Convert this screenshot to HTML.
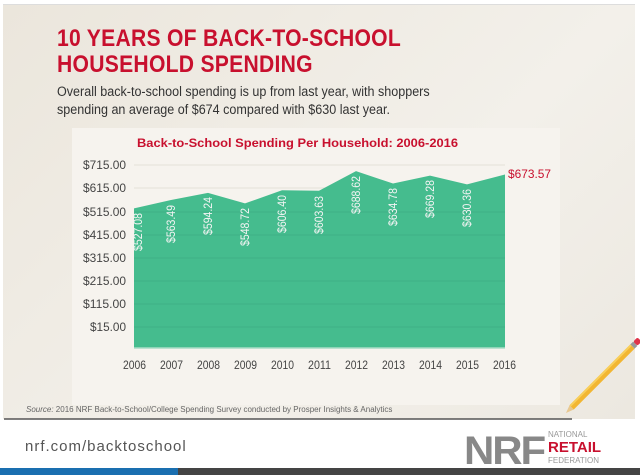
<!DOCTYPE html>
<html><head><meta charset="utf-8"><style>
body{margin:0;width:640px;height:475px;overflow:hidden;background:#fff;font-family:"Liberation Sans",sans-serif;}
.abs{position:absolute}
</style></head><body>
<div class="abs" style="left:0;top:0;width:640px;height:475px;background:#fff"></div>
<div class="abs" style="left:3px;top:4px;width:632px;height:414px;background:linear-gradient(135deg,#ebe6dc,#f3f0ea 60%,#ece8e0);border-top:1px solid #ddd"></div>
<div class="abs" style="left:57px;top:26px;font-size:24px;font-weight:bold;color:#c8102e;line-height:26px;transform:scaleX(0.88);transform-origin:left;letter-spacing:0.3px;white-space:nowrap">10 YEARS OF BACK-TO-SCHOOL<br>HOUSEHOLD SPENDING</div>
<div class="abs" style="left:57px;top:83px;font-size:13.5px;color:#333;line-height:18px;transform:scaleX(0.93);transform-origin:left;white-space:nowrap">Overall back-to-school spending is up from last year, with shoppers<br>spending an average of $674 compared with $630 last year.</div>
<div class="abs" style="left:72px;top:128px;width:488px;height:277px;background:#f6f3ee"></div>
<svg class="abs" style="left:0;top:0" width="640" height="475">
<text x="137" y="147" font-size="12" font-weight="bold" fill="#c8102e" textLength="321" lengthAdjust="spacingAndGlyphs">Back-to-School Spending Per Household: 2006-2016</text>
<g stroke="#e4e0d8" stroke-width="1">
<line x1="134" x2="505" y1="165" y2="165"/><line x1="134" x2="505" y1="188" y2="188"/>
</g>
<polygon fill="#45bc8e" points="134,348 134,208.4 171,200 208,192.9 245,203.4 282,190.2 319,190.8 356,171.1 393,183.5 430,175.6 467,184.4 505,174.5 505,348"/>
<g stroke="#3fb085" stroke-width="1">
<line x1="134" x2="505" y1="212" y2="212"/><line x1="134" x2="505" y1="235" y2="235"/><line x1="134" x2="505" y1="258" y2="258"/><line x1="134" x2="505" y1="281" y2="281"/><line x1="134" x2="505" y1="304" y2="304"/><line x1="134" x2="505" y1="327" y2="327"/>
</g>
<line x1="134" x2="505" y1="348" y2="348" stroke="#a8dcc6" stroke-width="1.5"/>
<g font-size="11.5" fill="#444" text-anchor="end">
<text x="126" y="169" textLength="43" lengthAdjust="spacingAndGlyphs">$715.00</text><text x="126" y="192" textLength="43" lengthAdjust="spacingAndGlyphs">$615.00</text><text x="126" y="216" textLength="43" lengthAdjust="spacingAndGlyphs">$515.00</text><text x="126" y="239" textLength="43" lengthAdjust="spacingAndGlyphs">$415.00</text><text x="126" y="262" textLength="43" lengthAdjust="spacingAndGlyphs">$315.00</text><text x="126" y="285" textLength="43" lengthAdjust="spacingAndGlyphs">$215.00</text><text x="126" y="308" textLength="43" lengthAdjust="spacingAndGlyphs">$115.00</text><text x="126" y="331" textLength="36" lengthAdjust="spacingAndGlyphs">$15.00</text>
</g>
<g font-size="11.5" fill="#444">
<text x="123" y="369" textLength="23" lengthAdjust="spacingAndGlyphs">2006</text><text x="160" y="369" textLength="23" lengthAdjust="spacingAndGlyphs">2007</text><text x="197" y="369" textLength="23" lengthAdjust="spacingAndGlyphs">2008</text><text x="234" y="369" textLength="23" lengthAdjust="spacingAndGlyphs">2009</text><text x="271" y="369" textLength="23" lengthAdjust="spacingAndGlyphs">2010</text><text x="308" y="369" textLength="23" lengthAdjust="spacingAndGlyphs">2011</text><text x="345" y="369" textLength="23" lengthAdjust="spacingAndGlyphs">2012</text><text x="382" y="369" textLength="23" lengthAdjust="spacingAndGlyphs">2013</text><text x="419" y="369" textLength="23" lengthAdjust="spacingAndGlyphs">2014</text><text x="456" y="369" textLength="23" lengthAdjust="spacingAndGlyphs">2015</text><text x="493" y="369" textLength="23" lengthAdjust="spacingAndGlyphs">2016</text>
</g>
<g font-size="11.5" fill="#f4f4f4" text-anchor="end">
<text transform="translate(142,213) rotate(-90)" textLength="38" lengthAdjust="spacingAndGlyphs">$527.08</text>
<text transform="translate(175,205) rotate(-90)" textLength="38" lengthAdjust="spacingAndGlyphs">$563.49</text>
<text transform="translate(212,197) rotate(-90)" textLength="38" lengthAdjust="spacingAndGlyphs">$594.24</text>
<text transform="translate(249,208) rotate(-90)" textLength="38" lengthAdjust="spacingAndGlyphs">$548.72</text>
<text transform="translate(286,195) rotate(-90)" textLength="38" lengthAdjust="spacingAndGlyphs">$606.40</text>
<text transform="translate(323,196) rotate(-90)" textLength="38" lengthAdjust="spacingAndGlyphs">$603.63</text>
<text transform="translate(360,176) rotate(-90)" textLength="38" lengthAdjust="spacingAndGlyphs">$688.62</text>
<text transform="translate(397,188) rotate(-90)" textLength="38" lengthAdjust="spacingAndGlyphs">$634.78</text>
<text transform="translate(434,180) rotate(-90)" textLength="38" lengthAdjust="spacingAndGlyphs">$669.28</text>
<text transform="translate(471,189) rotate(-90)" textLength="38" lengthAdjust="spacingAndGlyphs">$630.36</text>
</g>
<text x="508" y="178" font-size="12" fill="#c8102e" textLength="43" lengthAdjust="spacingAndGlyphs">$673.57</text>
<text x="26" y="412" font-size="8" fill="#666"><tspan font-style="italic">Source:</tspan> 2016 NRF Back-to-School/College Spending Survey conducted by Prosper Insights &amp; Analytics</text>
<line x1="4" x2="572" y1="419" y2="419" stroke="#555" stroke-width="1.5"/>
<g transform="translate(566,413) rotate(-45)">
<polygon points="0,0 8,-3 8,3" fill="#e8c890"/>
<rect x="8" y="-3" width="86" height="6" fill="#f2b632"/>
<rect x="8" y="-3" width="86" height="2" fill="#f8cf5a"/>
<rect x="94" y="-3" width="4" height="6" fill="#999"/>
<rect x="98" y="-3" width="6" height="6" rx="2" fill="#e0354a"/>
</g>
<rect x="0" y="468" width="178" height="7" fill="#1a6fb0"/>
<rect x="178" y="468" width="462" height="7" fill="#444"/>
<text x="25" y="451" font-size="15" fill="#555" letter-spacing="1">nrf.com/backtoschool</text>
<text x="464" y="464" font-size="40" font-weight="bold" fill="#888" letter-spacing="-2" textLength="80" lengthAdjust="spacingAndGlyphs">NRF</text>
<text x="548" y="437" font-size="8" fill="#999">NATIONAL</text>
<text x="548" y="452" font-size="15" font-weight="bold" fill="#c8102e">RETAIL</text>
<text x="548" y="463" font-size="8" fill="#999">FEDERATION</text>
</svg>
</body></html>
